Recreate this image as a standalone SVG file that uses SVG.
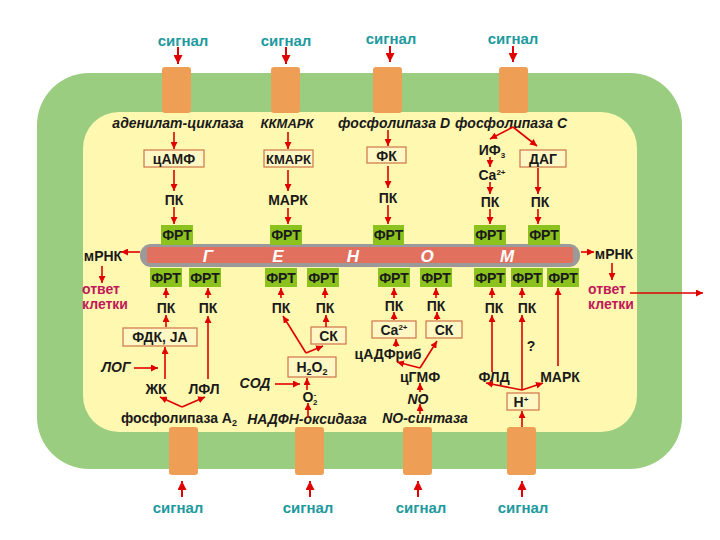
<svg xmlns="http://www.w3.org/2000/svg" width="720" height="540" viewBox="0 0 720 540">
<defs>
<style>
text{font-family:"Liberation Sans",Arial,sans-serif;font-weight:bold;font-size:14px;fill:#1a1a1a;text-anchor:middle}
.it{font-style:italic}
.sm{font-size:13px}
.sig{fill:#1E9A9E;font-size:15px}
.resp{fill:#C0185A;text-anchor:start}
.gen{fill:#ffffff;font-size:17px;font-style:italic}
.ch{fill:#EE9E55}
.box{fill:#FFF8C4;stroke:#CF7448;stroke-width:1.2}
.frt{fill:#8CC21E}
.arr{stroke:#E00000;stroke-width:1.6;fill:none;marker-end:url(#ah)}
.sarr{stroke:#E00000;stroke-width:2;fill:none;marker-end:url(#sh)}
</style>
<marker id="ah" markerUnits="userSpaceOnUse" markerWidth="7" markerHeight="7" refX="7" refY="3.5" orient="auto"><path d="M0,0 L7,3.5 L0,7 z" fill="#E00000"/></marker>
<marker id="sh" markerUnits="userSpaceOnUse" markerWidth="9" markerHeight="9" refX="9" refY="4.5" orient="auto"><path d="M0,0 L9,4.5 L0,9 z" fill="#E00000"/></marker>
</defs>
<rect width="720" height="540" fill="#ffffff"/>
<g id="cell">
<rect x="37" y="73" width="645" height="396" rx="52" fill="#9ACD80"/>
<rect x="83" y="112" width="554" height="320" rx="36" fill="#FFF8B0"/>
</g>
<g id="channels">
<rect class="ch" x="162" y="67" width="29" height="46" rx="3"/>
<rect class="ch" x="271" y="67" width="29" height="46" rx="3"/>
<rect class="ch" x="373" y="67" width="29" height="46" rx="3"/>
<rect class="ch" x="499" y="67" width="29" height="46" rx="3"/>
<rect class="ch" x="169" y="427" width="29" height="48" rx="3"/>
<rect class="ch" x="295" y="427" width="29" height="48" rx="3"/>
<rect class="ch" x="403" y="427" width="29" height="48" rx="3"/>
<rect class="ch" x="507" y="427" width="29" height="48" rx="3"/>
</g>
<g id="signals">
<text class="sig" x="183" y="46">сигнал</text>
<text class="sig" x="286" y="46">сигнал</text>
<text class="sig" x="391" y="44">сигнал</text>
<text class="sig" x="513" y="44">сигнал</text>
<text class="sig" x="178" y="513">сигнал</text>
<text class="sig" x="308" y="513">сигнал</text>
<text class="sig" x="421" y="513">сигнал</text>
<text class="sig" x="523" y="513">сигнал</text>
</g>
<g id="genome">
<rect x="140" y="244" width="440" height="23" rx="11" fill="#9A9A9A"/>
<rect x="147" y="247" width="426" height="16" rx="2" fill="#E2705E"/>
<text class="gen" x="208" y="262">Г</text>
<text class="gen" x="278" y="262">Е</text>
<text class="gen" x="353" y="262">Н</text>
<text class="gen" x="427" y="262">О</text>
<text class="gen" x="507" y="262">М</text>
</g>
<g id="frt-top">
<rect class="frt" x="161" y="225" width="32" height="20"/><text x="177" y="240">ФРТ</text>
<rect class="frt" x="270" y="225" width="32" height="20"/><text x="286" y="240">ФРТ</text>
<rect class="frt" x="373" y="225" width="31" height="20"/><text x="388.500" y="240">ФРТ</text>
<rect class="frt" x="474" y="225" width="32" height="20"/><text x="490" y="240">ФРТ</text>
<rect class="frt" x="528" y="225" width="32" height="20"/><text x="544" y="240">ФРТ</text>
</g>
<g id="frt-bottom">
<rect class="frt" x="150" y="268" width="32" height="19"/><text x="166" y="282.500">ФРТ</text>
<rect class="frt" x="189" y="268" width="32" height="19"/><text x="205" y="282.500">ФРТ</text>
<rect class="frt" x="265" y="268" width="32" height="19"/><text x="281" y="282.500">ФРТ</text>
<rect class="frt" x="307" y="268" width="32" height="19"/><text x="323" y="282.500">ФРТ</text>
<rect class="frt" x="378" y="268" width="32" height="19"/><text x="394" y="282.500">ФРТ</text>
<rect class="frt" x="420" y="268" width="32" height="19"/><text x="436" y="282.500">ФРТ</text>
<rect class="frt" x="474" y="268" width="32" height="19"/><text x="490" y="282.500">ФРТ</text>
<rect class="frt" x="511" y="268" width="32" height="19"/><text x="527" y="282.500">ФРТ</text>
<rect class="frt" x="547" y="268" width="32" height="19"/><text x="563" y="282.500">ФРТ</text>
</g>
<g id="path-adenylate">
<text class="it" x="178" y="128">аденилат-циклаза</text>
<rect class="box" x="144" y="150" width="60" height="17"/><text x="174" y="163.500">цАМФ</text>
<text x="174" y="205">ПК</text>
</g>
<g id="path-kkmapk">
<text class="it sm" x="287" y="128">ККМАРК</text>
<rect class="box" x="264" y="150" width="49" height="17"/><text class="sm" x="288.500" y="163.500">КМАРК</text>
<text x="288" y="205">МАРК</text>
</g>
<g id="path-pld">
<text class="it" x="394" y="128">фосфолипаза D</text>
<rect class="box" x="367" y="147" width="39" height="16"/><text x="386.500" y="160.500">ФК</text>
<text x="388" y="203">ПК</text>
</g>
<g id="path-plc">
<text class="it" x="511" y="128">фосфолипаза С</text>
<text x="492" y="155">ИФ<tspan font-size="8" dy="3">3</tspan></text>
<text x="492" y="180">Ca<tspan font-size="8" dy="-5">2+</tspan></text>
<text x="490" y="207">ПК</text>
<rect class="box" x="520" y="150" width="46" height="17"/><text x="543" y="163.500">ДАГ</text>
<text x="540" y="207">ПК</text>
</g>
<g id="mrna-left">
<text x="103" y="261">мРНК</text>
<text class="resp" x="82" y="294">ответ</text>
<text class="resp" x="82" y="309">клетки</text>
</g>
<g id="mrna-right">
<text x="614" y="259">мРНК</text>
<text class="resp" x="588" y="294">ответ</text>
<text class="resp" x="588" y="309">клетки</text>
</g>
<g id="path-pla2">
<text x="166" y="313">ПК</text>
<text x="208" y="313">ПК</text>
<rect class="box" x="123" y="328" width="74" height="18"/><text x="160" y="342">ФДК, JA</text>
<text class="it" x="116" y="372">ЛОГ</text>
<text x="156" y="394">ЖК</text>
<text x="204" y="394">ЛФЛ</text>
<text x="179" y="423">фосфолипаза А<tspan font-size="9" dy="3">2</tspan></text>
</g>
<g id="path-nadph">
<text x="281" y="313">ПК</text>
<text x="325" y="313">ПК</text>
<rect class="box" x="311" y="327" width="35" height="17"/><text x="328.500" y="340.500">СК</text>
<rect class="box" x="288" y="357" width="48" height="20"/><text x="312" y="372">H<tspan font-size="9" dy="3">2</tspan><tspan dy="-3">O</tspan><tspan font-size="9" dy="3">2</tspan></text>
<text class="it" x="255" y="388">СОД</text>
<text x="310" y="402">O<tspan font-size="8" dy="-5">-</tspan><tspan font-size="8" dx="-3" dy="8">2</tspan></text>
<text class="it" x="307" y="424">НАДФН-оксидаза</text>
</g>
<g id="path-nos">
<text x="394" y="311">ПК</text>
<text x="436" y="311">ПК</text>
<rect class="box" x="372" y="321" width="44" height="17"/><text x="394" y="334.500">Ca<tspan font-size="8" dy="-5">2+</tspan></text>
<rect class="box" x="426" y="321" width="36" height="17"/><text x="444" y="334.500">СК</text>
<text x="388" y="359">цАДФриб</text>
<text x="420" y="382">цГМФ</text>
<text class="it" x="418" y="404">NO</text>
<text class="it" x="425" y="423">NO-синтаза</text>
</g>
<g id="path-proton">
<text x="494" y="313">ПК</text>
<text x="527" y="313">ПК</text>
<text x="531" y="351">?</text>
<text x="494" y="382">ФЛД</text>
<text x="560" y="382">МАРК</text>
<rect class="box" x="507" y="393" width="32" height="17"/><text x="521" y="406.500">H<tspan font-size="8" dy="-5">+</tspan></text>
</g>
<g id="connectors">
<path class="sarr" d="M178,47 V64"/>
<path class="sarr" d="M286,47 V64"/>
<path class="sarr" d="M390,46 V62"/>
<path class="sarr" d="M513,46 V62"/>
<path class="sarr" d="M182,497 V481"/>
<path class="sarr" d="M310,497 V481"/>
<path class="sarr" d="M418,497 V481"/>
<path class="sarr" d="M522,497 V481"/>
<path class="arr" d="M174,132 V149"/>
<path class="arr" d="M174,170 V191"/>
<path class="arr" d="M174,207 V224"/>
<path class="arr" d="M288,132 V149"/>
<path class="arr" d="M288,170 V191"/>
<path class="arr" d="M288,208 V224"/>
<path class="arr" d="M388,130 V146"/>
<path class="arr" d="M388,166 V188"/>
<path class="arr" d="M388,205 V224"/>
<path class="arr" d="M513,127 L490,139"/>
<path class="arr" d="M513,127 L537,146"/>
<path class="arr" d="M490,157 V167"/>
<path class="arr" d="M490,182 V194"/>
<path class="arr" d="M490,209 V224"/>
<path class="arr" d="M538,168 V194"/>
<path class="arr" d="M538,209 V224"/>
<path class="arr" d="M140,252 H121"/>
<path class="arr" d="M581,252 H594"/>
<path class="arr" d="M102,266 V283"/>
<path class="arr" d="M612,263 V280"/>
<path class="arr" d="M630,293 H703"/>
<path class="arr" d="M166,298 V288"/>
<path class="arr" d="M208,298 V288"/>
<path class="arr" d="M166,327 V315"/>
<path class="arr" d="M165,379 V347"/>
<path class="arr" d="M134,368 H158"/>
<path class="arr" d="M208,379 V316"/>
<path class="arr" d="M182,407 L160,397"/>
<path class="arr" d="M182,407 L205,397"/>
<path class="arr" d="M281,298 V288"/>
<path class="arr" d="M325,298 V288"/>
<path class="arr" d="M326,327 V315"/>
<path class="arr" d="M306,353 L283,316"/>
<path class="arr" d="M306,353 L323,346"/>
<path class="arr" d="M275,384 H300"/>
<path class="arr" d="M307,390 V378"/>
<path class="arr" d="M308,418 V403"/>
<path class="arr" d="M394,298 V288"/>
<path class="arr" d="M436,298 V288"/>
<path class="arr" d="M394,320 V312"/>
<path class="arr" d="M437,320 V312"/>
<path class="arr" d="M396,347 V339"/>
<path class="arr" d="M420,368 L397,362"/>
<path class="arr" d="M420,368 L437,341"/>
<path class="arr" d="M420,392 V383"/>
<path class="arr" d="M420,414 V404"/>
<path class="arr" d="M492,372 V315"/>
<path class="arr" d="M492,298 V288"/>
<path class="arr" d="M522,390 V315"/>
<path class="arr" d="M522,298 V288"/>
<path class="arr" d="M558,366 V288"/>
<path class="arr" d="M522,390 L486,383"/>
<path class="arr" d="M522,390 L543,383"/>
<path class="arr" d="M522,427 V411"/>
</g>
</svg>
